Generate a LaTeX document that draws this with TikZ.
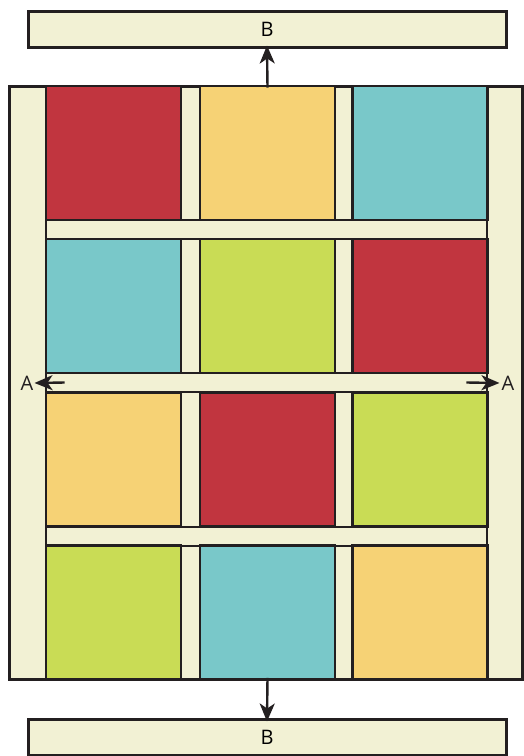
\documentclass[tikz,border=0pt]{standalone}
\usepackage{fontspec}
\setmainfont{Open Sans}
\usepackage{xcolor}
\usepackage{tikz}
\usetikzlibrary{arrows.meta}

\definecolor{cream}{HTML}{F2F1D4}
\definecolor{brick}{HTML}{C1353F}
\definecolor{sand}{HTML}{F6D275}
\definecolor{teal}{HTML}{79C8C9}
\definecolor{lime}{HTML}{C9DC55}
\definecolor{ink}{HTML}{231F20}

\begin{document}
\begin{tikzpicture}[
    x=1pt, y=-1pt,
    tile/.style={
        rectangle,
        draw=ink,
        line width=2.8pt,
        minimum width=135pt,
        minimum height=134pt,
        inner sep=0pt
    },
    strip/.style={
        rectangle,
        draw=ink,
        fill=cream,
        line width=2.8pt,
        minimum width=441pt,
        minimum height=19pt,
        inner sep=0pt
    },
    bar/.style={
        rectangle,
        draw=ink,
        fill=cream,
        line width=3pt,
        minimum width=478pt,
        minimum height=36pt,
        font=\fontsize{20}{24}\selectfont
    },
    arrow/.style={
        -{Stealth[length=18pt,width=15pt,inset=5pt]},
        line width=2.4pt,
        draw=ink
    },
    letter/.style={
        inner sep=0pt,
        text=ink,
        font=\fontsize{20}{24}\selectfont
    }
]
\useasboundingbox (0,0) rectangle (523,756);

% Frame
\node[rectangle, draw=ink, fill=cream, line width=3pt, minimum width=513pt,
      minimum height=593pt, inner sep=0pt] (frame) at (265.5, 382.5) {};
\draw[ink, line width=2.8pt] (46,86) rectangle (487,679);

% Bars
\node[bar] (btop) at (267, 29) {B};
\node[bar] (bbot) at (267, 737) {B};

% Strips
\node[strip] (hs1) at (266.5, 229.5) {};
\node[strip] (hs2) at (266.5, 382.5) {};
\node[strip] (hs3) at (266.5, 536.5) {};

% Tiles
\node[tile, fill=brick] (r1c1) at (113.5, 153) {};
\node[tile, fill=sand]  (r1c2) at (267.5, 153) {};
\node[tile, fill=teal]  (r1c3) at (420, 153) {};

\node[tile, fill=teal]  (r2c1) at (113.5, 306) {};
\node[tile, fill=lime]  (r2c2) at (267.5, 306) {};
\node[tile, fill=brick] (r2c3) at (420, 306) {};

\node[tile, fill=sand]  (r3c1) at (113.5, 459.5) {};
\node[tile, fill=brick] (r3c2) at (267.5, 459.5) {};
\node[tile, fill=lime]  (r3c3) at (420, 459.5) {};

\node[tile, fill=lime]  (r4c1) at (113.5, 612.5) {};
\node[tile, fill=teal]  (r4c2) at (267.5, 612.5) {};
\node[tile, fill=sand]  (r4c3) at (420, 612.5) {};

% Labels
\node[letter] (aleft) at (27, 383) {A};
\node[letter] (aright) at (508, 383) {A};

% Arrows
\draw[arrow] ([yshift=-3pt]r1c2.north) -- ([yshift=3pt]btop.south);
\draw[arrow] ([yshift=3pt]r4c2.south) -- ([yshift=-4pt]bbot.north);
\draw[arrow] ([xshift=20pt]hs2.west) -- ([xshift=1pt]aleft.east);
\draw[arrow] ([xshift=-22pt]hs2.east) -- ([xshift=-2pt]aright.west);

\end{tikzpicture}
\end{document}
